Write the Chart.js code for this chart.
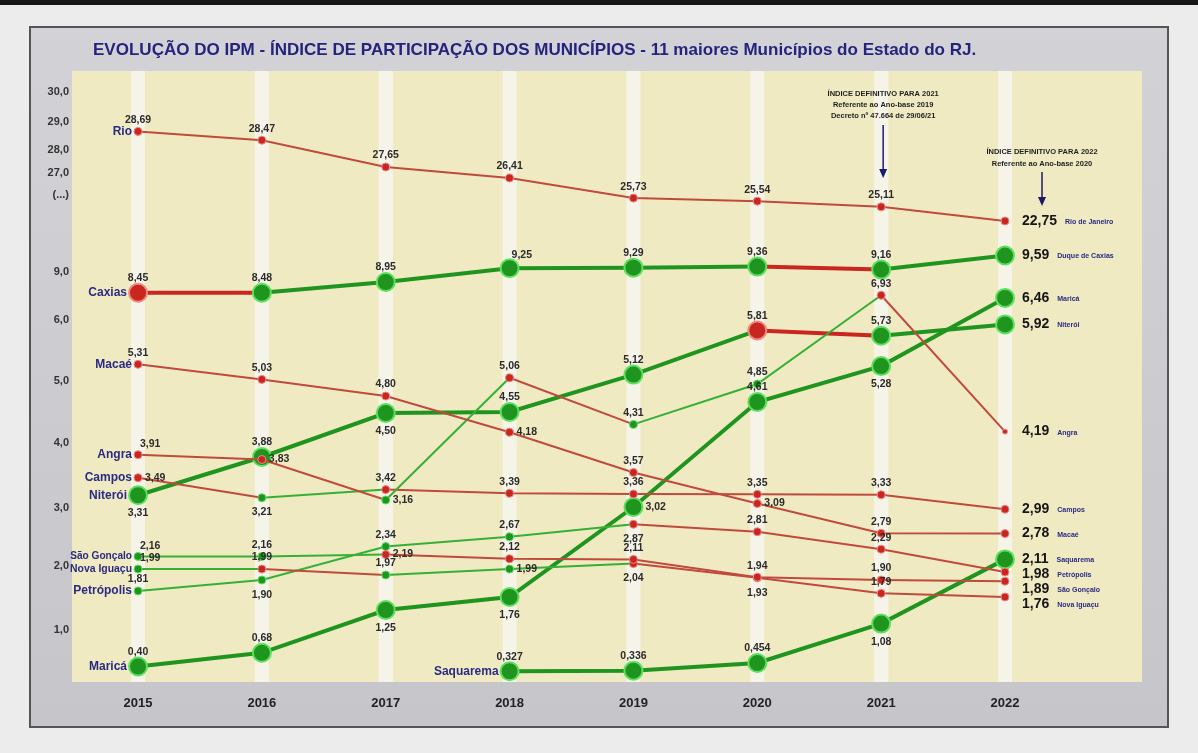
<!DOCTYPE html>
<html lang="pt-BR">
<head>
<meta charset="utf-8">
<title>Evolução do IPM</title>
<script src="https://cdn.jsdelivr.net/npm/chart.js@4.4.1/dist/chart.umd.min.js"></script>
<style>
  html, body { margin: 0; padding: 0; background: #ececec; overflow: hidden; }
  #wrap { width: 1198px; height: 753px; position: relative; }
</style>
</head>
<body>
<div id="wrap"><canvas id="ipmChart"></canvas></div>
<script>
// Dados (IPM em %)
const anos = [2015, 2016, 2017, 2018, 2019, 2020, 2021, 2022];
const rio        = [28.69, 28.47, 27.65, 26.41, 25.73, 25.54, 25.11, 22.75];
const caxias     = [8.45, 8.48, 8.95, 9.25, 9.29, 9.36, 9.16, 9.59];
const macae      = [5.31, 5.03, 4.80, 4.18, 3.57, 3.09, 2.79, 2.78];
const angra      = [3.91, 3.83, 3.16, 5.06, 4.31, 4.85, 6.93, 4.19];
const campos     = [3.49, 3.21, 3.42, 3.39, 3.36, 3.35, 3.33, 2.99];
const niteroi    = [3.31, 3.88, 4.50, 4.55, 5.12, 5.81, 5.73, 5.92];
const saoGoncalo = [2.16, 2.16, 2.19, 2.12, 2.11, 1.94, 1.90, 1.89];
const novaIguacu = [1.99, 1.99, 1.97, 1.99, 2.04, 1.93, 1.79, 1.76];
const petropolis = [1.81, 1.90, 2.34, 2.67, 2.87, 2.81, 2.29, 1.98];
const marica     = [0.40, 0.68, 1.25, 1.76, 3.02, 4.61, 5.28, 6.46];
const saquarema  = [null, null, null, 0.327, 0.336, 0.454, 1.08, 2.11];

const yTickValues = [1, 2, 3, 4, 5, 6, 9, 25.83, 27, 28, 29, 30];
const yTickLabels = ['1,0', '2,0', '3,0', '4,0', '5,0', '6,0', '9,0', '(...)', '27,0', '28,0', '29,0', '30,0'];

const titulo = 'EVOLUÇÃO DO IPM - ÍNDICE DE PARTICIPAÇÃO DOS MUNICÍPIOS - 11 maiores Municípios do Estado do RJ.';

// Eixo quebrado: valor -> altura (escala não linear do slide original)
const quebras = [
  [0.3, 9], [0.5, 22], [0.7, 30], [1.0, 52], [1.25, 72], [1.76, 85], [1.9, 102], [1.97, 107],
  [2.0, 116], [2.15, 125], [2.2, 128], [2.35, 136], [2.8, 149], [3.0, 174], [3.2, 184],
  [3.4, 189], [3.5, 206], [3.9, 226], [4.0, 239], [4.5, 269], [4.55, 270], [4.61, 280],
  [4.8, 286], [4.85, 298], [5.0, 301], [5.3, 317], [5.8, 351], [6.0, 362], [6.5, 386],
  [8.9, 390], [9.0, 410], [9.4, 416], [9.6, 427], [22.75, 461], [25.1, 475], [25.7, 483],
  [26.4, 504], [27.65, 515], [28.0, 532], [28.45, 541], [28.7, 551], [30, 590]
];
function posicao(v) {
  if (v === null) return null;
  for (let i = 1; i < quebras.length; i++) {
    const [v0, p0] = quebras[i - 1], [v1, p1] = quebras[i];
    if (v <= v1) return p0 + (v - v0) / (v1 - v0) * (p1 - p0);
  }
  return quebras[quebras.length - 1][1];
}

function fmt(v) {
  const dec = Math.round(v * 1000) % 10 !== 0 ? 3 : 2;
  return v.toFixed(dec).replace('.', ',');
}

// Estilo de cada série: cor dos pontos/trechos (r/g), tamanho (G/p/t), posição do rótulo
const series = [
  { nome: 'Rio', final: 'Rio de Janeiro', dados: rio, grossa: false,
    pontos: 'rrrrrrrr', trechos: 'rrrrrrr', tam: 'pppppppp', rot: ['a','a','a','a','a','a','a'] },
  { nome: 'Caxias', final: 'Duque de Caxias', dados: caxias, grossa: true,
    pontos: 'rggggggg', trechos: 'rggggrg', tam: 'GGGGGGGG', rot: ['a','a','a','ar','a','a','a'] },
  { nome: 'Macaé', final: 'Macaé', dados: macae, grossa: false,
    pontos: 'rrrrrrrr', trechos: 'rrrrrrr', tam: 'pppppppp', rot: ['a','a','a','r','a','r','a'] },
  { nome: 'Angra', final: 'Angra', dados: angra, grossa: false,
    pontos: 'rrgrggrr', trechos: 'rrgrggr', tam: 'pppppppt', rot: ['ar','r','r','a','a','a','a'] },
  { nome: 'Campos', final: 'Campos', dados: campos, grossa: false,
    pontos: 'rgrrrrrr', trechos: 'rgrrrrr', tam: 'pppppppp', rot: ['r','b','a','a','a','a','a'] },
  { nome: 'Niterói', final: 'Niterói', dados: niteroi, grossa: true,
    pontos: 'gggggrgg', trechos: 'gggggrg', tam: 'GGGGGGGG', rot: ['b','a','b','a','a','a','a'] },
  { nome: 'São Gonçalo', final: 'São Gonçalo', dados: saoGoncalo, grossa: false,
    pontos: 'ggrrrrrr', trechos: 'ggrrrrr', tam: 'pppppppp', rot: ['ar','a','r','a','a','a','a'] },
  { nome: 'Nova Iguaçu', final: 'Nova Iguaçu', dados: novaIguacu, grossa: false,
    pontos: 'grggrrrr', trechos: 'grggrrr', tam: 'pppppppp', rot: ['ar','a','a','r','b','b','a'] },
  { nome: 'Petrópolis', final: 'Petrópolis', dados: petropolis, grossa: false,
    pontos: 'ggggrrrr', trechos: 'ggggrrr', tam: 'pppppppp', rot: ['a','b','a','a','b','a','a'] },
  { nome: 'Maricá', final: 'Maricá', dados: marica, grossa: true,
    pontos: 'gggggggg', trechos: 'ggggggg', tam: 'GGGGGGGG', rot: ['a','a','b','b','r','a','b'] },
  { nome: 'Saquarema', final: 'Saquarema', dados: saquarema, grossa: true,
    pontos: 'gggggggg', trechos: 'ggggggg', tam: 'pppGGGGG', rot: ['a','a','a','a','a','a','b'] }
];

const VERDE = '#1f951f', VERDE_FINO = '#35b035', VERDE_BORDA = '#5ee05e';
const VERMELHO = '#c8261f', VERMELHO_FINO = '#bf4a3d', VERMELHO_BORDA = '#f08a80';
const raio = { G: 9, p: 4, t: 2.5 };
const FONTE = '"Liberation Sans", Arial, sans-serif';

const datasets = series.map(s => ({
  label: s.nome,
  data: anos.map((ano, i) => ({ x: ano, y: posicao(s.dados[i]) })),
  borderWidth: s.grossa ? 4 : 2,
  borderColor: s.grossa ? VERDE : VERMELHO_FINO,
  segment: {
    borderColor: ctx => {
      const c = s.trechos[ctx.p0DataIndex];
      if (c === 'g') return s.grossa ? VERDE : VERDE_FINO;
      return s.grossa ? VERMELHO : VERMELHO_FINO;
    }
  },
  pointRadius: anos.map((a, i) => raio[s.tam[i]]),
  pointBackgroundColor: anos.map((a, i) => s.pontos[i] === 'g' ? VERDE : VERMELHO),
  pointBorderColor: anos.map((a, i) => s.pontos[i] === 'g' ? VERDE_BORDA : VERMELHO_BORDA),
  pointBorderWidth: anos.map((a, i) => s.tam[i] === 'G' ? 2 : 1),
  tension: 0,
  spanGaps: false
}));

const fundo = {
  id: 'fundo',
  beforeDraw(chart) {
    const { ctx, chartArea: a, scales: { x } } = chart;
    ctx.save();
    ctx.fillStyle = '#ececec';
    ctx.fillRect(0, 0, chart.width, chart.height);
    ctx.fillStyle = '#161616';
    ctx.fillRect(0, 0, chart.width, 5);
    const g = ctx.createLinearGradient(0, 27, 0, 727);
    g.addColorStop(0, '#d3d3d7');
    g.addColorStop(1, '#c6c6ca');
    ctx.fillStyle = g;
    ctx.fillRect(30, 27, 1138, 700);
    ctx.strokeStyle = '#555';
    ctx.lineWidth = 2;
    ctx.strokeRect(30, 27, 1138, 700);
    ctx.fillStyle = '#f0eac3';
    ctx.fillRect(a.left, a.top, a.right - a.left, a.bottom - a.top);
    ctx.fillStyle = 'rgba(246,245,236,0.9)';
    anos.forEach(ano => {
      const px = x.getPixelForValue(ano);
      ctx.fillRect(px - 7, a.top, 14, a.bottom - a.top);
    });
    // título
    ctx.font = 'bold 15px ' + FONTE;
    const w = ctx.measureText(titulo).width;
    const tam = 15 * 884 / w;
    ctx.font = 'bold ' + tam.toFixed(2) + 'px ' + FONTE;
    ctx.fillStyle = '#24247c';
    ctx.textAlign = 'left';
    ctx.textBaseline = 'middle';
    ctx.fillText(titulo, 93, 50);
    ctx.restore();
  }
};

const rotulos = {
  id: 'rotulos',
  afterDatasetsDraw(chart) {
    const { ctx } = chart;
    ctx.save();
    const finais = [];
    series.forEach((s, di) => {
      const meta = chart.getDatasetMeta(di);
      let primeiro = true;
      s.dados.forEach((v, i) => {
        if (v === null) return;
        const el = meta.data[i];
        const r = raio[s.tam[i]];
        if (primeiro) {
          primeiro = false;
          // nome à esquerda do primeiro ponto
          const direita = el.x - r - 2;
          let fs = 12;
          ctx.font = 'bold ' + fs + 'px ' + FONTE;
          const disp = direita - 70;
          const wn = ctx.measureText(s.nome).width;
          if (wn > disp) fs = fs * disp / wn;
          ctx.font = 'bold ' + fs.toFixed(2) + 'px ' + FONTE;
          ctx.fillStyle = '#2a2a82';
          ctx.textAlign = 'right';
          ctx.textBaseline = 'middle';
          ctx.fillText(s.nome, direita, el.y);
        }
        if (i === anos.length - 1) {
          finais.push({ s, v, x: el.x, y: el.y });
          return;
        }
        ctx.font = 'bold 10.5px ' + FONTE;
        ctx.fillStyle = '#2b2b2b';
        ctx.textBaseline = 'middle';
        const pos = s.rot[i];
        const t = fmt(v);
        if (pos === 'a') {
          ctx.textAlign = 'center';
          ctx.fillText(t, el.x, el.y - (9 + r * 0.6));
        } else if (pos === 'b') {
          ctx.textAlign = 'center';
          ctx.fillText(t, el.x, el.y + (12 + r * 0.7));
        } else if (pos === 'r') {
          ctx.textAlign = 'left';
          ctx.fillText(t, el.x + r + 3, el.y);
        } else if (pos === 'ar') {
          ctx.textAlign = 'left';
          ctx.fillText(t, el.x + 2, el.y - (8 + r * 0.6));
        }
      });
    });
    // rótulos finais (2022) à direita, sem sobreposição
    finais.sort((p, q) => p.y - q.y);
    let ultimo = -100;
    finais.forEach(f => {
      const y = Math.max(f.y, ultimo + 15);
      ultimo = y;
      const x0 = f.x + 17;
      ctx.font = 'bold 14px ' + FONTE;
      ctx.fillStyle = '#151515';
      ctx.textAlign = 'left';
      ctx.textBaseline = 'middle';
      const t = fmt(f.v);
      ctx.fillText(t, x0, y);
      const wv = ctx.measureText(t).width;
      ctx.font = 'bold 7px ' + FONTE;
      ctx.fillStyle = '#2a2a82';
      ctx.fillText(f.s.final, x0 + wv + 8, y + 1);
    });
    ctx.restore();
  }
};

const avisos = {
  id: 'avisos',
  afterDraw(chart) {
    const { ctx, scales: { x } } = chart;
    ctx.save();
    ctx.fillStyle = '#1e1e1e';
    ctx.textAlign = 'center';
    ctx.textBaseline = 'middle';
    ctx.font = 'bold 7.5px ' + FONTE;
    const x1 = x.getPixelForValue(2021) + 2;
    ['ÍNDICE DEFINITIVO PARA 2021', 'Referente ao Ano-base 2019', 'Decreto nº 47.664 de 29/06/21']
      .forEach((l, i) => ctx.fillText(l, x1, 94 + i * 11));
    const x2 = x.getPixelForValue(2022) + 37;
    ['ÍNDICE DEFINITIVO PARA 2022', 'Referente ao Ano-base 2020']
      .forEach((l, i) => ctx.fillText(l, x2, 152 + i * 11.5));
    function seta(px, y0, y1) {
      ctx.strokeStyle = '#1a1a6a';
      ctx.fillStyle = '#1a1a6a';
      ctx.lineWidth = 1.5;
      ctx.beginPath();
      ctx.moveTo(px, y0);
      ctx.lineTo(px, y1 - 8);
      ctx.stroke();
      ctx.beginPath();
      ctx.moveTo(px - 4, y1 - 9);
      ctx.lineTo(px + 4, y1 - 9);
      ctx.lineTo(px, y1);
      ctx.closePath();
      ctx.fill();
    }
    seta(x1, 125, 178);
    seta(x2, 172, 206);
    ctx.restore();
  }
};

const ctx = document.getElementById('ipmChart').getContext('2d');
const ipmChart = new Chart(ctx, {
  type: 'line',
  data: { datasets },
  plugins: [fundo, rotulos, avisos],
  options: {
    responsive: true,
    maintainAspectRatio: false,
    animation: false,
    layout: { padding: { left: 0, top: 71, right: 56, bottom: 0 } },
    plugins: {
      legend: { display: false },
      tooltip: { enabled: false },
      title: { display: false }
    },
    scales: {
      x: {
        type: 'linear',
        min: 2014.467,
        max: 2023.106,
        grid: { display: false, drawTicks: false },
        border: { display: false },
        afterFit(scale) { scale.height = 71; },
        afterBuildTicks(scale) { scale.ticks = anos.map(v => ({ value: v })); },
        ticks: {
          autoSkip: false,
          padding: 14,
          color: '#222',
          font: { family: FONTE, size: 13, weight: 'bold' },
          callback: v => String(v)
        }
      },
      y: {
        type: 'linear',
        min: 0,
        max: 611,
        grid: { display: false, drawTicks: false },
        border: { display: false },
        afterFit(scale) { scale.width = 72; },
        afterBuildTicks(scale) { scale.ticks = yTickValues.map(v => ({ value: posicao(v) })); },
        ticks: {
          autoSkip: false,
          padding: 3,
          color: '#333',
          font: { family: FONTE, size: 11, weight: 'bold' },
          callback: (v, i) => yTickLabels[i]
        }
      }
    }
  }
});
</script>
</body>
</html>
